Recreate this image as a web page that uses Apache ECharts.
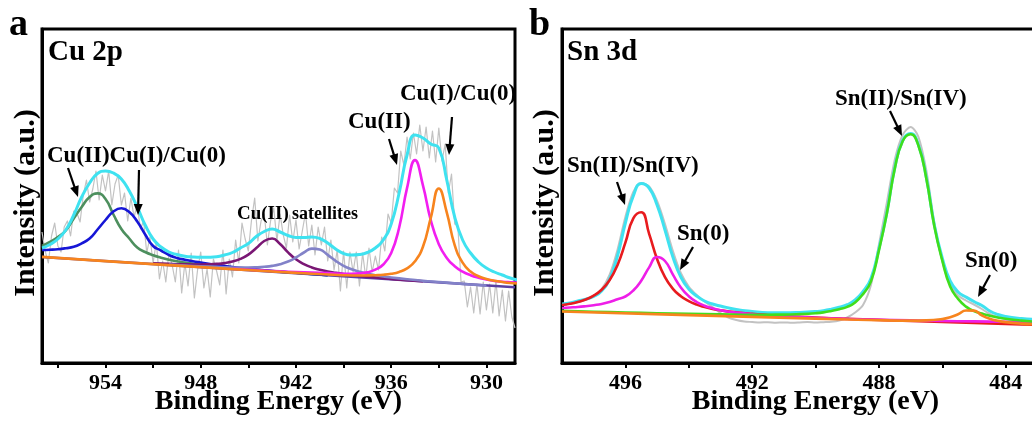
<!DOCTYPE html>
<html>
<head>
<meta charset="utf-8">
<script src="https://cdn.jsdelivr.net/npm/echarts@6/dist/echarts.min.js"></script>
<style>
  html, body { margin: 0; padding: 0; background: #fff; }
  #chart { width: 1032px; height: 422px; }
</style>
</head>
<body>
<div id="chart"></div>
<script>
// ---------- Cu 2p region (binding energy in eV, intensity in a.u.) ----------
const cuTickLabels = [930, 936, 942, 948, 954];
const cuTickMarks = [930, 933, 936, 939, 942, 945, 948, 951, 954, 957];

// measured spectrum, 0.2 eV steps from 958.0 eV downwards
const cuRawStart = 958.0;
const cuRawStep = 0.2;
const cuRaw = [
  131, 112, 100, 127, 140, 117, 111, 136, 142, 127,
  152, 150, 141, 168, 183, 161, 174, 192, 163, 188,
  172, 192, 158, 179, 188, 158, 170, 142, 165, 146,
  158, 134, 142, 110, 126, 100, 121, 84, 102, 81,
  111, 98, 81, 113, 70, 100, 77, 110, 65, 93,
  111, 75, 94, 66, 104, 92, 78, 113, 69, 104,
  86, 123, 100, 140, 124, 112, 143, 165, 122, 142,
  149, 118, 142, 155, 122, 149, 128, 115, 148, 121,
  143, 114, 132, 150, 117, 138, 108, 136, 118, 136,
  102, 123, 93, 113, 72, 112, 75, 111, 91, 111,
  77, 110, 85, 115, 91, 107, 93, 126, 112, 149,
  140, 175, 170, 212, 198, 226, 204, 230, 209, 238,
  212, 236, 205, 232, 201, 235, 202, 219, 170, 189,
  139, 137, 81, 82, 56, 76, 50, 79, 49, 81,
  53, 79, 50, 82, 47, 73, 42, 72, 46, 35
];

const cuBackground = [[958, 106.0], [928.2, 75.8]];

const cuEnvelope = [
  [958, 115.0], [957.5, 118.5], [957, 124.0], [956.5, 133.0], [956, 148.0],
  [955.5, 166.0], [955, 180.0], [954.5, 189.5], [954, 192.0], [953.5, 190.0],
  [953, 184.0], [952.5, 172.0], [952, 156.0], [951.5, 138.0], [951, 124.0],
  [950.5, 116.0], [950, 111.0], [949.5, 108.5], [949, 106.8], [948.5, 106.0],
  [948, 105.7], [947.5, 105.8], [947, 106.3], [946.5, 108.0], [946, 110.5],
  [945.5, 115.0], [945, 119.5], [944.5, 126.5], [944, 131.5], [943.5, 134.0],
  [943, 131.0], [942.5, 127.5], [942, 125.5], [941.5, 125.5], [941, 126.0],
  [940.5, 124.5], [940, 120.0], [939.5, 114.0], [939, 109.5], [938.5, 108.0],
  [938, 108.5], [937.5, 110.5], [937, 115.0], [936.5, 123.0], [936, 139.0],
  [935.5, 170.0], [935, 208.0], [934.5, 228.0], [934, 225.0], [933.5, 219.0],
  [933, 215.0], [932.5, 183.0], [932, 146.0], [931.5, 123.0], [931, 110.0],
  [930.5, 101.0], [930, 95.0], [929.5, 91.0], [929, 88.0], [928.5, 85.0], [928, 83.0]
];

// Cu(II) 2p1/2
const cuII_2p12 = [
  [958, 117.0], [957.5, 121.0], [957, 126.0], [956.5, 132.5], [956, 144.5],
  [955.5, 156.0], [955, 166.0], [954.5, 169.6], [954, 164.0], [953.5, 148.5],
  [953, 134.0], [952.5, 124.5], [952, 115.5], [951.5, 111.0], [951, 107.8],
  [950.5, 105.3], [950, 103.3], [949.5, 101.8], [949, 100.4], [948.5, 99.3],
  [948, 98.3], [947, 96.7], [946, 95.1], [945, 93.8], [944, 92.5],
  [943, 91.3], [942, 90.2], [941, 89.0], [940, 87.9]
];

// Cu(I)/Cu(0) 2p1/2
const cuI_2p12 = [
  [958, 113.0], [957.5, 113.3], [957, 113.8], [956.5, 114.8], [956, 116.2],
  [955.5, 119.7], [955, 124.5], [954.5, 133.5], [954, 143.0], [953.5, 151.5],
  [953, 154.7], [952.5, 151.0], [952, 141.5], [951.5, 128.5], [951, 117.0],
  [950.5, 112.5], [950, 108.0], [949.5, 105.0], [949, 103.3], [948.5, 101.8],
  [948, 100.5], [947, 98.0], [946, 96.0], [945, 94.3], [944, 92.8],
  [943, 91.4], [942, 90.2], [941, 89.0], [940, 87.8]
];

// Cu(II) shake-up satellites
const cuSatellite1 = [
  [951, 99.8], [950, 99.1], [949, 98.6], [948.5, 98.5], [948, 98.5],
  [947.5, 98.7], [947, 99.1], [946.5, 99.9], [946, 101.5], [945.5, 104.1],
  [945, 108.4], [944.5, 114.9], [944, 122.0], [943.5, 124.5], [943, 119.0],
  [942.5, 110.6], [942, 103.7], [941.5, 98.9], [941, 95.6], [940.5, 93.3],
  [940, 91.5], [939.5, 90.1], [939, 88.9], [938.5, 87.9], [938, 87.1],
  [937, 85.6], [936, 84.1], [935, 82.9], [934, 81.7]
];
const cuSatellite2 = [
  [950, 98.4], [949, 97.5], [948, 96.7], [947, 96.1], [946.5, 95.7],
  [946, 95.5], [945.5, 95.5], [945, 95.5], [944.5, 95.7], [944, 96.2],
  [943.5, 97.1], [943, 98.8], [942.5, 101.5], [942, 105.5], [941.5, 110.5],
  [941, 114.4], [940.5, 113.4], [940, 108.1], [939.5, 102.1],
  [939, 97.2], [938.5, 93.7], [938, 91.2], [937.5, 89.3], [937, 87.8],
  [936.5, 86.5], [936, 85.5], [935, 83.8], [934, 82.2], [933, 81.0],
  [932, 79.8], [931, 78.5], [930, 77.4]
];

// Cu(II) 2p3/2
const cuII_2p32 = [
  [946, 94.2], [945, 93.3], [944, 92.4], [943, 91.6], [942, 91.0],
  [941, 90.4], [940, 89.9], [939.5, 89.5], [939, 89.3], [938.5, 89.3],
  [938, 89.6], [937.5, 90.7], [937, 93.3], [936.5, 98.5], [936, 110.0],
  [935.5, 135.3], [935, 175.1], [934.5, 202.9], [934, 177.7], [933.5, 142.3],
  [933, 118.8], [932.5, 105.1], [932, 96.8], [931.5, 91.4], [931, 87.8],
  [930.5, 85.3], [930, 83.5], [929.5, 82.0], [929, 81.3], [928.5, 80.8], [928, 80.4]
];

// Cu(I)/Cu(0) 2p3/2
const cuI_2p32 = [
  [958, 106.1], [954, 101.9], [950, 97.9], [946, 93.9], [942, 90.1],
  [940, 88.5], [939, 87.8], [938, 87.5], [937.5, 87.6], [937, 87.8],
  [936.5, 88.2], [936, 89.2], [935.5, 91.1], [935, 94.7], [934.5, 101.7],
  [934, 116.2], [933.5, 145.6], [933, 174.5], [932.5, 150.7], [932, 117.8],
  [931.5, 100.3], [931, 91.4], [930.5, 86.8], [930, 84.0], [929.5, 82.3],
  [929, 81.0], [928.5, 80.0], [928, 79.4]
];

// ---------- Sn 3d region ----------
const snTickLabels = [484, 488, 492, 496];
const snTickMarks = [484, 486, 488, 490, 492, 494, 496];

// measured spectrum, 0.25 eV steps from 498.0 eV downwards
const snRawStart = 498.0;
const snRawStep = 0.25;
const snRaw = [
  58.0, 59.5, 61.0, 63.5, 67.0, 74.0, 88.0, 113.0, 146.0, 171.0,
  180.0, 176.5, 162.0, 139.0, 112.0, 90.0, 76.5, 68.0, 61.5, 56.0,
  50.0, 45.5, 43.0, 41.5, 41.0, 40.5, 40.8, 40.3, 40.6, 40.2,
  40.5, 40.9, 40.4, 40.8, 41.2, 42.5, 45.5, 50.5, 58.0, 78.0,
  118.0, 160.0, 203.0, 228.0, 236.0, 226.0, 192.0, 140.0, 102.0, 78.0,
  67.5, 62.5, 58.5, 54.0, 49.0, 46.0, 44.0, 42.5, 41.5, 40.5,
  40.0, 39.5, 39.2, 38.8, 38.5
];

const snEnvelope = [
  [498, 59.0], [497.75, 60.0], [497.5, 62.0], [497.25, 63.8], [497, 66.5],
  [496.75, 72.0], [496.5, 84.0], [496.25, 107.0], [496, 140.0], [495.75, 167.0],
  [495.5, 179.5], [495.25, 175.0], [495, 158.0], [494.75, 133.0],
  [494.5, 106.0], [494.25, 86.0], [494, 74.0], [493.75, 67.0], [493.5, 62.0],
  [493.25, 59.0], [493, 57.0], [492.5, 53.5], [492, 51.5], [491.5, 50.3],
  [491, 50.2], [490.5, 50.6], [490, 51.5], [489.75, 52.3], [489.5, 53.8],
  [489.25, 55.8], [489, 58.3], [488.75, 63.0], [488.5, 71.5], [488.25, 84.5],
  [488, 114.0], [487.75, 150.0], [487.5, 195.0], [487.25, 222.5], [487, 229.5],
  [486.75, 218.0], [486.5, 185.0], [486.25, 138.0], [486, 105.0], [485.75, 82.0],
  [485.5, 71.0], [485.25, 66.0], [485, 61.5], [484.75, 57.5], [484.5, 52.0],
  [484.25, 48.5], [484, 46.5], [483.5, 44.5], [483, 43.3], [482.5, 42.5], [482, 41.8]
];

// Sn(II)/Sn(IV) 3d3/2
const snOx_3d32 = [
  [498, 58.0], [497.75, 59.2], [497.5, 61.0], [497.25, 63.5], [497, 67.4],
  [496.75, 73.3], [496.5, 82.7], [496.25, 97.8], [496, 120.3], [495.75, 144.6],
  [495.5, 150.8], [495.25, 129.1], [495, 104.0], [494.75, 85.8],
  [494.5, 74.2], [494.25, 66.8], [494, 61.9], [493.75, 58.4], [493.5, 56.0],
  [493.25, 54.1], [493, 52.7], [492.5, 50.6], [492, 49.1], [491.5, 48.0],
  [491, 47.0], [490.5, 46.2], [490, 45.5], [489, 44.2], [488, 43.1],
  [487, 42.0], [486, 41.0], [485, 40.0], [484, 39.1], [483, 38.1], [482, 37.2]
];

// Sn(0) 3d3/2
const snMetal_3d32 = [
  [498, 55.0], [497.75, 55.5], [497.5, 56.0], [497.25, 56.8], [497, 57.8],
  [496.75, 59.0], [496.5, 61.0], [496.25, 63.8], [496, 66.5], [495.75, 72.5],
  [495.5, 82.3], [495.25, 95.6], [495, 106.0], [494.75, 102.0],
  [494.5, 88.4], [494.25, 75.6], [494, 66.8], [493.75, 61.0], [493.5, 57.3],
  [493.25, 54.7], [493, 52.8], [492.5, 50.4], [492, 48.7], [491.5, 47.6],
  [491, 46.7], [490, 45.2], [489, 44.0], [488, 43.3], [487, 42.6],
  [486, 42.0], [485, 41.6], [484, 41.2], [483, 40.8], [482, 40.4]
];

// Sn(II)/Sn(IV) 3d5/2
const snOx_3d52 = [
  [498, 52.1], [497, 51.2], [496, 50.5], [495, 49.7], [494, 49.1],
  [493, 48.6], [492, 48.2], [491.5, 48.3], [491, 48.4], [490.5, 48.9],
  [490, 49.8], [489.75, 50.6], [489.5, 52.0], [489.25, 53.8], [489, 56.1],
  [488.75, 60.6], [488.5, 68.9], [488.25, 81.6], [488, 112.4], [487.75, 149.2],
  [487.5, 194.0], [487.25, 221.7], [487, 228.7], [486.75, 217.3], [486.5, 184.0],
  [486.25, 136.8], [486, 102.6], [485.75, 76.4], [485.5, 64.1], [485.25, 56.4],
  [485, 51.9], [484.75, 49.4], [484.5, 47.2], [484.25, 45.5], [484, 44.2],
  [483.5, 42.4], [483, 41.1], [482.5, 40.0], [482, 39.1]
];

// Sn(0) 3d5/2
const snMetal_3d52 = [
  [498, 51.5], [494, 47.9], [490, 44.4], [488, 42.8], [487, 42.4],
  [486.5, 42.6], [486, 43.9], [485.75, 45.7], [485.5, 48.8], [485.25, 52.5],
  [485, 52.4], [484.75, 47.6], [484.5, 44.2], [484.25, 42.2],
  [484, 40.9], [483.5, 39.4], [483, 38.5], [482.5, 37.9], [482, 37.3]
];

// ---------- styling ----------
const SERIF = '"Liberation Serif", "Times New Roman", serif';
const BLACK = '#000000';
const COLORS = {
  raw: '#c2c2c2',
  envelope: '#3fe2f0',
  cuIIa: '#4d8f5e',
  cuIa: '#1616d6',
  sat1: '#7a1774',
  sat2: '#8282c8',
  cuIIb: '#f21ef0',
  cuIb: '#f7841e',
  bg: '#5a3fa4',
  snOxA: '#e81b1e',
  snMetalA: '#ee1ee8',
  snOxB: '#40de1c',
  snMetalB: '#f7841e'
};

function withEnergy(start, step, values) {
  return values.map((v, i) => [+(start - i * step).toFixed(3), v]);
}

function line(data, color, width, panel, smooth) {
  return {
    type: 'line',
    data: data,
    xAxisIndex: panel,
    yAxisIndex: panel,
    showSymbol: false,
    symbol: 'none',
    smooth: smooth === undefined ? 0.5 : smooth,
    silent: true,
    lineStyle: { color: color, width: width, join: 'round' },
    emphasis: { disabled: true }
  };
}

function xAxisFor(panel, min, max, marks, labels) {
  return {
    gridIndex: panel,
    type: 'value',
    inverse: true,
    min: min,
    max: max,
    axisLine: { show: true, onZero: false, lineStyle: { color: BLACK, width: 3 } },
    axisTick: { show: true, inside: false, length: 5, customValues: marks,
                lineStyle: { color: BLACK, width: 2 } },
    axisLabel: { customValues: labels, color: BLACK, fontFamily: SERIF,
                 fontWeight: 'bold', fontSize: 22, margin: 9 },
    splitLine: { show: false },
    name: 'Binding Energy (eV)',
    nameLocation: 'middle',
    nameGap: 25,
    nameMoveOverlap: false,
    nameTextStyle: { color: BLACK, fontFamily: SERIF, fontWeight: 'bold', fontSize: 28 }
  };
}

function yAxisFor(panel) {
  return {
    gridIndex: panel,
    type: 'value',
    min: 0,
    max: 334,
    axisLine: { show: true, onZero: false, lineStyle: { color: BLACK, width: 3 } },
    axisTick: { show: false },
    axisLabel: { show: false },
    splitLine: { show: false }
  };
}

// annotation arrows: [x1, y1, x2, y2] in pixels, tip at (x2, y2)
const arrows = [
  [68, 168, 78, 197],
  [139, 170, 138, 215],
  [389, 139, 397, 165],
  [452, 117, 449, 155],
  [617, 182, 625, 205],
  [890, 111, 902, 136],
  [693, 247, 680, 270],
  [990, 275, 978, 297]
];

function arrowGraphics(a) {
  const [x1, y1, x2, y2] = a;
  const dx = x2 - x1, dy = y2 - y1;
  const len = Math.hypot(dx, dy);
  const ux = dx / len, uy = dy / len;
  const headLen = 11, headHalf = 4.5;
  const bx = x2 - ux * headLen, by = y2 - uy * headLen;
  return [
    { type: 'line', z: 100, silent: true,
      shape: { x1: x1, y1: y1, x2: bx + ux * 1, y2: by + uy * 1 },
      style: { stroke: BLACK, lineWidth: 2.2 } },
    { type: 'polygon', z: 100, silent: true,
      shape: { points: [[x2, y2], [bx - uy * headHalf, by + ux * headHalf], [bx + uy * headHalf, by - ux * headHalf]] },
      style: { fill: BLACK } }
  ];
}

function label(text, left, top, size) {
  return { type: 'text', left: left, top: top, z: 100, silent: true,
           style: { text: text, fill: BLACK, font: 'bold ' + size + 'px ' + SERIF } };
}

// vertical axis titles, centred on (cx, cy) and reading bottom to top
function yTitle(cx, cy) {
  return { type: 'text', x: cx, y: cy, rotation: Math.PI / 2, z: 100, silent: true,
           style: { text: 'Intensity (a.u.)', fill: BLACK, font: 'bold 30px ' + SERIF,
                    align: 'center', verticalAlign: 'middle' } };
}

const graphics = [
  label('a', 9, 6, 38),
  label('b', 529, 6, 38),
  label('Cu 2p', 48, 38, 29),
  label('Sn 3d', 567, 38, 29),
  label('Cu(II)Cu(I)/Cu(0)', 47, 145, 23),
  label('Cu(II)', 348, 111, 23),
  label('Cu(I)/Cu(0)', 400, 83, 23),
  label('Sn(II)/Sn(IV)', 835, 88, 23),
  label('Sn(II)/Sn(IV)', 567, 155, 23),
  label('Sn(0)', 677, 223, 23),
  label('Sn(0)', 965, 250, 23),
  { type: 'text', left: 237, top: 205, z: 100, silent: true,
    style: { text: '{a|Cu(II)} {b|satellites}', fill: BLACK,
             rich: { a: { font: 'bold 19px ' + SERIF, fill: BLACK },
                     b: { font: 'bold 18px ' + SERIF, fill: BLACK } } } },
  yTitle(26, 203),
  yTitle(545, 203)
];
arrows.forEach(a => graphics.push(...arrowGraphics(a)));

const chart = echarts.init(document.getElementById('chart'), null, { renderer: 'canvas' });
chart.setOption({
  animation: false,
  backgroundColor: '#ffffff',
  grid: [
    { left: 42, top: 29, width: 473, height: 334, show: true, borderColor: BLACK,
      borderWidth: 3, backgroundColor: 'transparent', containLabel: false, outerBoundsMode: 'none' },
    { left: 562, top: 29, width: 507, height: 334, show: true, borderColor: BLACK,
      borderWidth: 3, backgroundColor: 'transparent', containLabel: false, outerBoundsMode: 'none' }
  ],
  xAxis: [
    xAxisFor(0, 928.2, 958, cuTickMarks, cuTickLabels),
    xAxisFor(1, 482, 498, snTickMarks, snTickLabels)
  ],
  yAxis: [yAxisFor(0), yAxisFor(1)],
  series: [
    line(withEnergy(cuRawStart, cuRawStep, cuRaw), COLORS.raw, 1.2, 0, false),
    line(cuBackground, COLORS.bg, 2.5, 0, false),
    line(cuII_2p12, COLORS.cuIIa, 2.6, 0),
    line(cuI_2p12, COLORS.cuIa, 2.6, 0),
    line(cuSatellite1, COLORS.sat1, 2.6, 0),
    line(cuSatellite2, COLORS.sat2, 2.6, 0),
    line(cuII_2p32, COLORS.cuIIb, 2.6, 0),
    line(cuI_2p32, COLORS.cuIb, 2.6, 0),
    line(cuEnvelope, COLORS.envelope, 3, 0),

    line(withEnergy(snRawStart, snRawStep, snRaw), COLORS.raw, 2, 1, 0.3),
    line(snEnvelope, COLORS.envelope, 3, 1),
    line(snOx_3d32, COLORS.snOxA, 2.6, 1),
    line(snMetal_3d32, COLORS.snMetalA, 2.6, 1),
    line(snOx_3d52, COLORS.snOxB, 2.6, 1),
    line(snMetal_3d52, COLORS.snMetalB, 2.6, 1)
  ],
  graphic: graphics
});
</script>
</body>
</html>
